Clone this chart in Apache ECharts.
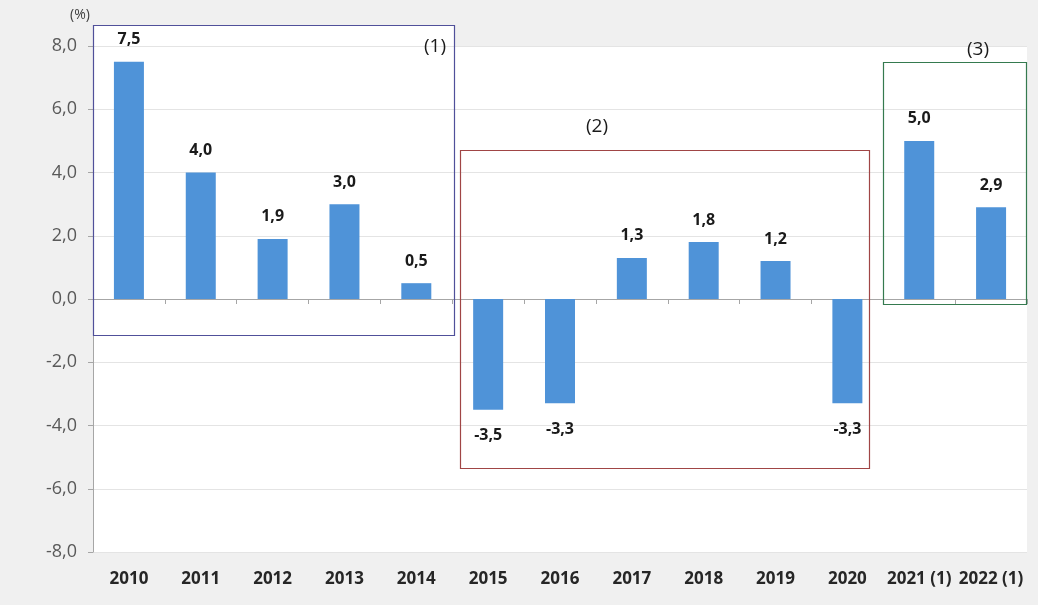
<!DOCTYPE html>
<html>
<head>
<meta charset="utf-8">
<script src="https://cdn.jsdelivr.net/npm/echarts@6/dist/echarts.min.js"></script>
<style>
html,body{margin:0;padding:0;background:#f0f0f0;}
#chart{width:1038px;height:605px;}
</style>
</head>
<body>
<div id="chart"></div>
<script>
const categories = ['2010','2011','2012','2013','2014','2015','2016','2017','2018','2019','2020','2021 (1)','2022 (1)'];
const values = [7.5, 4.0, 1.9, 3.0, 0.5, -3.5, -3.3, 1.3, 1.8, 1.2, -3.3, 5.0, 2.9];
const yTicks = { min: -8, max: 8, interval: 2 };
const boxLabels = ['(1)', '(2)', '(3)'];

const fmt = v => v.toFixed(1).replace('.', ',');
const FONT = '"Open Sans", "Noto Sans", sans-serif';

const chart = echarts.init(document.getElementById('chart'));

const barData = values.map(v => ({
  value: v,
  label: { position: v < 0 ? 'bottom' : 'top', distance: v < 0 ? 18 : 14 }
}));

const option = {
  backgroundColor: '#f0f0f0',
  animation: false,
  grid: { left: 93, right: 11, top: 46, bottom: 53, show: true, backgroundColor: '#ffffff', borderWidth: 0 },
  xAxis: [
    {
      type: 'category', data: categories, position: 'bottom',
      axisLine: { onZero: true, lineStyle: { color: '#a6a6a6', width: 1 } },
      axisTick: { show: true, length: 5, lineStyle: { color: '#a6a6a6' } },
      axisLabel: { show: false },
      splitLine: { show: false }
    },
    {
      type: 'category', data: categories, position: 'bottom',
      axisLine: { show: false, onZero: false },
      axisTick: { show: false },
      axisLabel: { show: true, margin: 19, fontFamily: FONT, fontSize: 17, fontWeight: 'bold', color: '#262626', interval: 0 },
      splitLine: { show: false }
    }
  ],
  yAxis: {
    type: 'value', min: yTicks.min, max: yTicks.max, interval: yTicks.interval,
    axisLine: { show: true, lineStyle: { color: '#a6a6a6' } },
    axisTick: { show: true, length: 5, lineStyle: { color: '#a6a6a6' } },
    axisLabel: { formatter: fmt, fontFamily: FONT, fontSize: 18, color: '#595959', margin: 16 },
    splitLine: { show: true, lineStyle: { color: '#e4e4e4', width: 1 } }
  },
  graphic: [
    { type: 'rect', z: -1, shape: { x: 93, y: 25, width: 362, height: 21 }, style: { fill: '#ffffff' } },
    { type: 'text', z: 20, left: 70, top: 8, style: { text: '(%)', font: '14px ' + FONT, fill: '#404040' } },
    { type: 'rect', z: 20, shape: { x: 93.5, y: 25.5, width: 361, height: 310 }, style: { fill: 'none', stroke: '#50509a', lineWidth: 1.2 } },
    { type: 'rect', z: 20, shape: { x: 460.5, y: 150.5, width: 409, height: 318 }, style: { fill: 'none', stroke: '#a04545', lineWidth: 1.2 } },
    { type: 'rect', z: 20, shape: { x: 883.5, y: 62.5, width: 143, height: 242 }, style: { fill: 'none', stroke: '#357a4f', lineWidth: 1.2 } },
    { type: 'text', z: 20, x: 435, y: 47, style: { text: boxLabels[0], font: '19px ' + FONT, fill: '#1a1a1a', textAlign: 'center', textVerticalAlign: 'middle' } },
    { type: 'text', z: 20, x: 597, y: 127, style: { text: boxLabels[1], font: '19px ' + FONT, fill: '#1a1a1a', textAlign: 'center', textVerticalAlign: 'middle' } },
    { type: 'text', z: 20, x: 978, y: 50, style: { text: boxLabels[2], font: '19px ' + FONT, fill: '#1a1a1a', textAlign: 'center', textVerticalAlign: 'middle' } }
  ],
  series: [{
    type: 'bar',
    xAxisIndex: 0,
    data: barData,
    barWidth: 30,
    itemStyle: { color: '#4f93d8' },
    label: {
      show: true,
      formatter: p => fmt(p.value),
      fontFamily: FONT, fontSize: 16, fontWeight: 'bold', color: '#1a1a1a'
    }
  }]
};
chart.setOption(option);
</script>
</body>
</html>
